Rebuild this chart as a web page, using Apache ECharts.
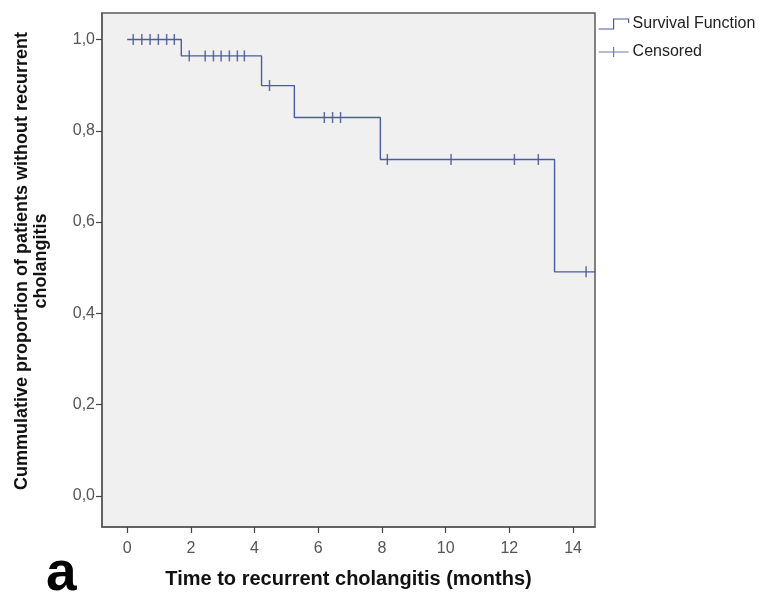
<!DOCTYPE html>
<html>
<head>
<meta charset="utf-8">
<script src="https://cdn.jsdelivr.net/npm/echarts@6/dist/echarts.min.js"></script>
<style>
  html, body { margin: 0; padding: 0; background: #fff; }
  #chart { width: 778px; height: 597px; }
</style>
</head>
<body>
<div id="chart"></div>
<script>
window.addEventListener("load", () => {
    // Kaplan-Meier steps (months, cumulative proportion)
    const stepTimes = [0, 1.7, 4.22, 5.25, 7.95, 13.42, 14.7];
    const stepSurvival = [1.0, 0.964, 0.899, 0.829, 0.737, 0.491, 0.491];

    // censored cases
    const censorTimes = [0.19, 0.46, 0.72, 0.98, 1.24, 1.48,
        1.95, 2.45, 2.71, 2.95, 3.21, 3.46, 3.68,
        4.47,
        6.19, 6.45, 6.70,
        8.17, 10.17, 12.16, 12.91,
        14.41];
    const censorSurvival = [1.0, 1.0, 1.0, 1.0, 1.0, 1.0,
        0.964, 0.964, 0.964, 0.964, 0.964, 0.964, 0.964,
        0.899,
        0.829, 0.829, 0.829,
        0.737, 0.737, 0.737, 0.737,
        0.491];

    const xTicks = [0, 2, 4, 6, 8, 10, 12, 14];
    const yTicks = [0, 0.2, 0.4, 0.6, 0.8, 1.0];

    const lineColor = '#4a5aa8';
    const font = 'Liberation Sans, Arial, sans-serif';

    let option = {
        animation: false,
        backgroundColor: '#fff',
        textStyle: { fontFamily: font },
        grid: {
            left: 102, top: 13, width: 493, height: 514,
            show: true,
            backgroundColor: '#f0f0f0',
            borderColor: '#5a5a5a',
            borderWidth: 1.5
        },
        legend: {
            orient: 'vertical',
            left: 598, top: 16,
            padding: 0,
            itemWidth: 30, itemHeight: 10, itemGap: 12,
            selectedMode: false,
            textStyle: { fontSize: 16, color: '#222', fontFamily: font, padding: [0, 0, 0, -1] },
            data: [
                {
                    name: 'Survival Function',
                    icon: 'path://M0,10 L15,10 L15,0 L30,0 L30,4',
                    itemStyle: { color: 'rgba(0,0,0,0)', borderColor: lineColor, borderWidth: 1.2 }
                },
                {
                    name: 'Censored',
                    icon: 'path://M0,5 L30,5 M15,0 L15,10',
                    itemStyle: { color: 'rgba(0,0,0,0)', borderColor: lineColor, borderWidth: 1.2 }
                }
            ]
        },
        xAxis: {
            type: 'value',
            min: -0.79, max: 14.69,
            name: 'Time to recurrent cholangitis (months)',
            nameLocation: 'middle',
            nameGap: 42,
            nameTextStyle: { fontSize: 20, fontWeight: 'bold', color: '#111', fontFamily: font },
            axisLine: { show: true, onZero: false, lineStyle: { color: '#5a5a5a', width: 1.5 } },
            splitLine: { show: false },
            axisTick: { show: true, length: 6, customValues: xTicks, lineStyle: { color: '#444', width: 1.2 } },
            axisLabel: { customValues: xTicks, fontSize: 16, color: '#555', margin: 14, fontFamily: font }
        },
        yAxis: {
            type: 'value',
            min: -0.068, max: 1.058,
            name: 'Cummulative proportion of patients without recurrent\ncholangitis',
            nameLocation: 'middle',
            nameRotate: 90,
            nameGap: 51,
            nameTextStyle: {
                fontSize: 18, fontWeight: 'bold', color: '#111', lineHeight: 19, align: 'center',
                fontFamily: font, padding: [0, 0, 0, 18]
            },
            axisLine: { show: true, onZero: false, lineStyle: { color: '#5a5a5a', width: 1.5 } },
            splitLine: { show: false },
            axisTick: { show: true, length: 6, customValues: yTicks, lineStyle: { color: '#444', width: 1.2 } },
            axisLabel: {
                customValues: yTicks, fontSize: 16, color: '#555', margin: 7, fontFamily: font,
                formatter: v => v.toFixed(1).replace('.', ',')
            }
        },
        graphic: [
            {
                type: 'text', left: 46, top: 547,
                style: { text: 'a', fontSize: 55, fontWeight: 'bold', fill: '#000', fontFamily: font }
            }
        ],
        series: [
            {
                name: 'Survival Function',
                type: 'line',
                step: 'end',
                symbol: 'none',
                lineStyle: { color: lineColor, width: 1.4 },
                itemStyle: { color: lineColor },
                data: stepTimes.map((t, i) => [t, stepSurvival[i]])
            },
            {
                name: 'Censored',
                type: 'scatter',
                symbol: 'rect',
                symbolSize: [1.5, 11],
                itemStyle: { color: '#3d4b96' },
                data: censorTimes.map((t, i) => [t, censorSurvival[i]])
            }
        ]
    };

    echarts.init(document.getElementById("chart")).setOption(option);
});
</script>
</body>
</html>
